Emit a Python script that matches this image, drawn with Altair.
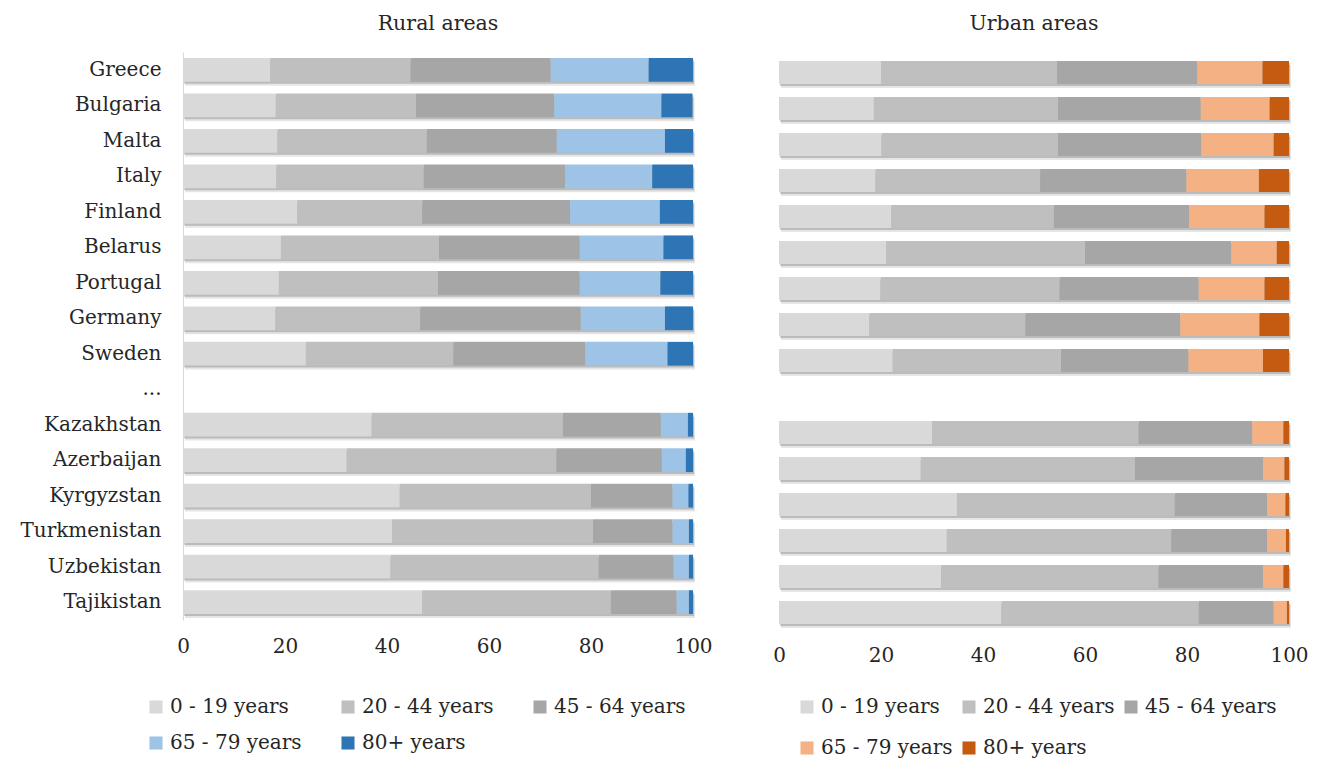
import altair as alt
import pandas as pd

FONT = "DejaVu Serif"
TEXT = "#262626"

countries = ["Greece", "Bulgaria", "Malta", "Italy", "Finland", "Belarus", "Portugal",
             "Germany", "Sweden", "...", "Kazakhstan", "Azerbaijan", "Kyrgyzstan",
             "Turkmenistan", "Uzbekistan", "Tajikistan"]
data_countries = [c for c in countries if c != "..."]
age_groups = ["0 - 19 years", "20 - 44 years", "45 - 64 years", "65 - 79 years", "80+ years"]

rural_0_19 = [17.1, 18.2, 18.5, 18.3, 22.4, 19.2, 18.8, 18.1, 24.1, 37.0, 32.1, 42.5, 41.0, 40.7, 46.9]
rural_20_44 = [27.5, 27.5, 29.3, 28.9, 24.5, 31.0, 31.2, 28.4, 28.9, 37.5, 41.1, 37.5, 39.4, 40.8, 37.0]
rural_45_64 = [27.5, 27.1, 25.5, 27.7, 29.0, 27.6, 27.8, 31.5, 25.9, 19.2, 20.7, 16.0, 15.6, 14.7, 12.9]
rural_65_79 = [19.2, 21.0, 21.2, 17.1, 17.6, 16.4, 15.8, 16.5, 16.1, 5.3, 4.7, 3.1, 3.2, 3.0, 2.4]
rural_80 = [8.8, 6.1, 5.5, 8.0, 6.5, 5.8, 6.4, 5.5, 5.0, 1.0, 1.4, 0.9, 0.8, 0.8, 0.8]

urban_0_19 = [20.0, 18.6, 20.1, 18.9, 22.0, 21.0, 19.9, 17.7, 22.3, 30.0, 27.8, 34.9, 32.9, 31.8, 43.6]
urban_20_44 = [34.5, 36.1, 34.6, 32.3, 31.9, 39.0, 35.1, 30.6, 33.0, 40.5, 42.0, 42.7, 44.0, 42.6, 38.7]
urban_45_64 = [27.5, 28.0, 28.1, 28.7, 26.5, 28.7, 27.3, 30.4, 25.0, 22.3, 25.1, 18.1, 18.8, 20.5, 14.7]
urban_65_79 = [12.8, 13.5, 14.2, 14.2, 14.8, 8.9, 12.9, 15.5, 14.6, 6.1, 4.2, 3.6, 3.7, 4.0, 2.6]
urban_80 = [5.2, 3.8, 3.0, 5.9, 4.8, 2.4, 4.8, 5.8, 5.1, 1.1, 0.9, 0.7, 0.6, 1.1, 0.4]

rural_colors = ["#d9d9d9", "#bfbfbf", "#a6a6a6", "#9dc3e6", "#2e75b6"]
urban_colors = ["#d9d9d9", "#bfbfbf", "#a6a6a6", "#f4b183", "#c55a11"]


def to_long(series):
    rows = []
    for gi, (g, vals) in enumerate(zip(age_groups, series)):
        for c, v in zip(data_countries, vals):
            rows.append({"country": c, "group": g, "idx": gi, "value": v})
    return pd.DataFrame(rows)


def panel(series, colors, title, show_y, height, pi, po, lab_pad,
          leg_x, leg_y, col_pad, row_pad):
    df = to_long(series)
    if show_y:
        yaxis = alt.Axis(title=None, labelFont=FONT, labelFontSize=20, labelColor=TEXT,
                         ticks=False, domainColor="#d9d9d9", domainWidth=1,
                         labelPadding=22, minExtent=178, maxExtent=178)
    else:
        yaxis = None
    y = alt.Y("country:N", scale=alt.Scale(domain=countries, paddingInner=pi, paddingOuter=po),
              axis=yaxis)
    xaxis = alt.Axis(title=None, values=[0, 20, 40, 60, 80, 100], grid=False, ticks=False,
                     domain=False, labelFont=FONT, labelFontSize=20, labelColor=TEXT,
                     labelPadding=lab_pad, labelFlush=False)
    xscale = alt.Scale(domain=[0, 100], nice=False, clamp=True)
    base = alt.Chart(df)
    shadow1 = base.transform_aggregate(total="sum(value)", groupby=["country"]).mark_bar(
        color="#000000", opacity=0.10, yOffset=4, xOffset=2).encode(
        x=alt.X("total:Q", scale=xscale, axis=xaxis), y=y)
    shadow2 = base.transform_aggregate(total="sum(value)", groupby=["country"]).mark_bar(
        color="#000000", opacity=0.18, yOffset=2, xOffset=1).encode(
        x=alt.X("total:Q", scale=xscale, axis=xaxis), y=y)
    bars = base.mark_bar().encode(
        x=alt.X("value:Q", stack="zero", scale=xscale, axis=xaxis),
        y=y,
        color=alt.Color("group:N", scale=alt.Scale(domain=age_groups, range=colors),
                        legend=alt.Legend(title=None, orient="none", legendX=leg_x, legendY=leg_y,
                                          direction="horizontal", columns=3, symbolType="square",
                                          symbolSize=170, symbolStrokeWidth=0, labelFont=FONT,
                                          labelFontSize=20, labelColor=TEXT, labelOffset=4,
                                          columnPadding=col_pad, rowPadding=row_pad,
                                          gridAlign="all", labelLimit=0)),
        order=alt.Order("idx:Q"),
    )
    return alt.layer(shadow1, shadow2, bars).properties(
        width=510, height=height,
        title=alt.TitleParams(title, font=FONT, fontSize=20.5, fontWeight="normal", color=TEXT,
                              anchor="middle", offset=18),
    )


left = panel([rural_0_19, rural_20_44, rural_45_64, rural_65_79, rural_80], rural_colors,
             "Rural areas", True, 568, 0.33, 0.17, 16, -37, 645, 36, 16)
right = panel([urban_0_19, urban_20_44, urban_45_64, urban_65_79, urban_80], urban_colors,
              "Urban areas", False, 581, 0.36, 0.25, 12, 18, 645, 6, 21)

chart = alt.hconcat(left, right, spacing=86, bounds="flush").resolve_scale(
    color="independent", x="independent", y="independent"
).properties(
    padding={"left": 5, "top": 13, "right": 5, "bottom": 0}
).configure_view(stroke=None)

chart.save("out.html", embed_options={"renderer": "svg", "actions": False})
